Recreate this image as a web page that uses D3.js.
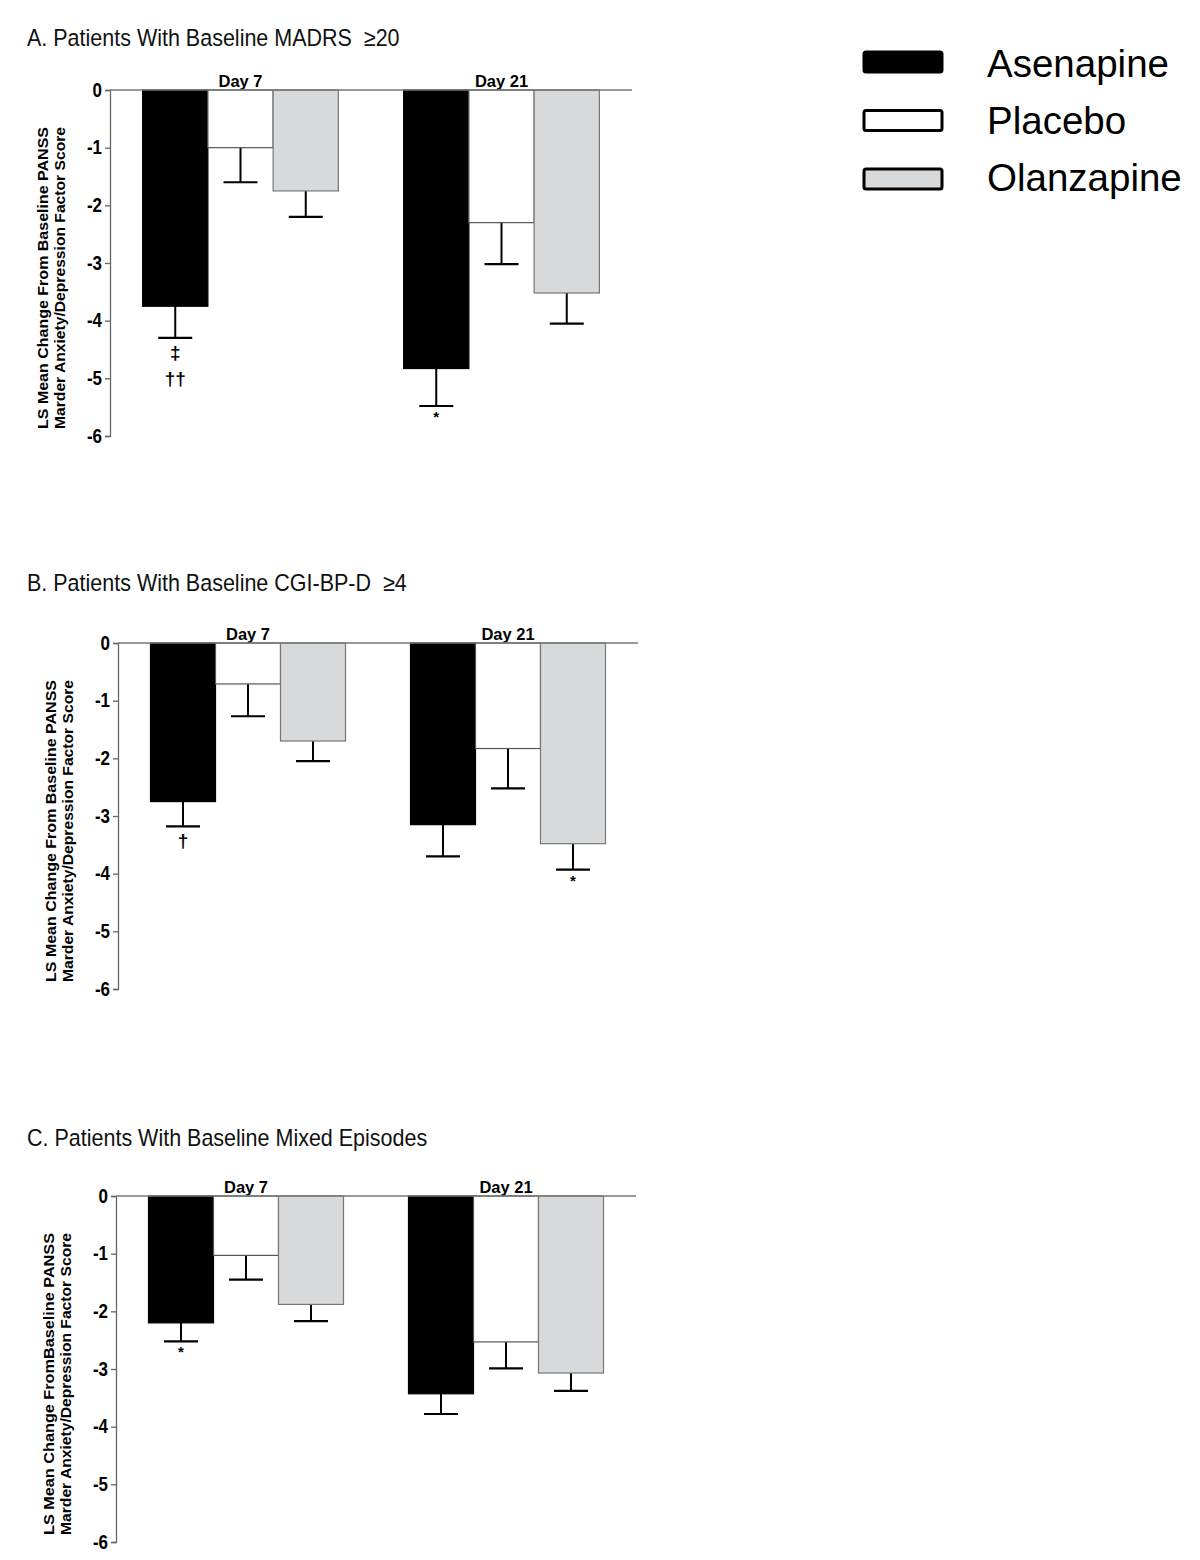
<!DOCTYPE html>
<html>
<head>
<meta charset="utf-8">
<script src="https://cdn.jsdelivr.net/npm/d3@7"></script>
<style>
  body { margin: 0; background: #fff; }
  svg { display: block; font-family: "Liberation Sans", Arial, sans-serif; }
  text { white-space: pre; }
</style>
</head>
<body>
<svg id="chart" width="1200" height="1560"></svg>
<script>
// ---------- DATA ----------
const days = ["Day 7", "Day 21"];
const treatments = ["Asenapine", "Placebo", "Olanzapine"];
const yTicks = [0, -1, -2, -3, -4, -5, -6];

const titleA = "A. Patients With Baseline MADRS  \u226520";
const titleB = "B. Patients With Baseline CGI-BP-D  \u22654";
const titleC = "C. Patients With Baseline Mixed Episodes";

const yLabelA = ["LS Mean Change From Baseline PANSS", "Marder Anxiety/Depression Factor Score"];
const yLabelB = ["LS Mean Change From Baseline PANSS", "Marder Anxiety/Depression Factor Score"];
const yLabelC = ["LS Mean Change FromBaseline PANSS", "Marder Anxiety/Depression Factor Score"];

// LS mean change, rows = days, cols = treatments
const meansA = [[-3.75, -1.00, -1.75], [-4.83, -2.30, -3.52]];
const errEndA = [[-4.30, -1.60, -2.20], [-5.48, -3.02, -4.05]];
const meansB = [[-2.75, -0.71, -1.70], [-3.15, -1.83, -3.48]];
const errEndB = [[-3.18, -1.27, -2.05], [-3.70, -2.52, -3.93]];
const meansC = [[-2.20, -1.03, -1.88], [-3.43, -2.53, -3.07]];
const errEndC = [[-2.52, -1.45, -2.17], [-3.78, -2.99, -3.38]];

// significance marks: [day, treatment, symbols]
const marksA = [["Day 7", "Asenapine", ["\u2021", "\u2020\u2020"]], ["Day 21", "Asenapine", ["*"]]];
const marksB = [["Day 7", "Asenapine", ["\u2020"]], ["Day 21", "Olanzapine", ["*"]]];
const marksC = [["Day 7", "Asenapine", ["*"]]];

// ---------- STYLE ----------
const fillColor = { Asenapine: "#000000", Placebo: "#ffffff", Olanzapine: "#d8d9db" };
const strokeColor = { Asenapine: "#000000", Placebo: "#555555", Olanzapine: "#777777" };

const svg = d3.select("#chart");

const panels = [
  { title: titleA, titleY: 46, yLabel: yLabelA, means: meansA, errs: errEndA, marks: marksA, axisX: 110, right: 632, top: 90 },
  { title: titleB, titleY: 591, yLabel: yLabelB, means: meansB, errs: errEndB, marks: marksB, axisX: 118, right: 638, top: 643 },
  { title: titleC, titleY: 1146, yLabel: yLabelC, means: meansC, errs: errEndC, marks: marksC, axisX: 116, right: 636, top: 1196 }
];

panels.forEach(p => {
  const g = svg.append("g");
  const y = d3.scaleLinear().domain([0, -6]).range([p.top, p.top + 346]);
  const x0 = d3.scaleBand().domain(days).range([p.axisX, p.right]).paddingInner(0.25).paddingOuter(0.125);
  const x1 = d3.scaleBand().domain(treatments).range([0, x0.bandwidth()]).padding(0);

  // title (source figure is slightly stretched vertically)
  g.append("text").attr("transform", `translate(27,${p.titleY}) scale(1,1.1)`)
    .attr("font-size", 21.5).attr("fill", "#111").text(p.title);

  // y axis
  const axis = d3.axisLeft(y).tickValues(yTicks).tickFormat(d => String(d)).tickSize(5).tickPadding(3);
  const ag = g.append("g").attr("transform", `translate(${p.axisX},0)`).call(axis);
  ag.select(".domain").attr("stroke", "#666").attr("stroke-width", 1.3);
  ag.selectAll(".tick line").attr("stroke", "#666").attr("stroke-width", 1.3);
  ag.selectAll(".tick text").attr("font-size", 17).attr("font-weight", "bold")
    .attr("fill", "#000").attr("font-family", "'Liberation Sans', Arial, sans-serif")
    .attr("transform", "scale(1,1.15)");

  // y label (two lines, rotated)
  const cy = p.top + 188;
  p.yLabel.forEach((line, i) => {
    g.append("text")
      .attr("transform", `translate(${p.axisX - 62 + i * 16.5},${cy}) rotate(-90)`)
      .attr("text-anchor", "middle").attr("font-size", 15).attr("font-weight", "bold")
      .attr("textLength", 302).attr("lengthAdjust", "spacingAndGlyphs")
      .attr("fill", "#000").text(line);
  });

  // day labels
  days.forEach(d => {
    g.append("text").attr("x", x0(d) + x0.bandwidth() / 2).attr("y", p.top - 3)
      .attr("text-anchor", "middle").attr("font-size", 16.5).attr("font-weight", "bold").text(d);
  });

  // bars
  const rows = [];
  days.forEach((d, di) => treatments.forEach((t, ti) => rows.push({ day: d, t, v: p.means[di][ti], e: p.errs[di][ti] })));

  // error bars (behind bars)
  const eg = g.append("g");
  rows.forEach(r => {
    const cx = x0(r.day) + x1(r.t) + x1.bandwidth() / 2;
    eg.append("line").attr("x1", cx).attr("x2", cx).attr("y1", y(r.v)).attr("y2", y(r.e))
      .attr("stroke", "#000").attr("stroke-width", 2);
    eg.append("line").attr("x1", cx - 17).attr("x2", cx + 17).attr("y1", y(r.e)).attr("y2", y(r.e))
      .attr("stroke", "#000").attr("stroke-width", 2.2);
  });

  g.append("g").selectAll("rect").data(rows).join("rect")
    .attr("x", r => x0(r.day) + x1(r.t))
    .attr("y", y(0))
    .attr("width", x1.bandwidth())
    .attr("height", r => y(r.v) - y(0))
    .attr("fill", r => fillColor[r.t])
    .attr("stroke", r => strokeColor[r.t])
    .attr("stroke-width", 1.2);

  // zero line
  g.append("line").attr("x1", p.axisX).attr("x2", p.right).attr("y1", y(0)).attr("y2", y(0))
    .attr("stroke", "#777").attr("stroke-width", 1.4);

  // significance marks
  p.marks.forEach(([d, t, syms]) => {
    const di = days.indexOf(d), ti = treatments.indexOf(t);
    const cx = x0(d) + x1(t) + x1.bandwidth() / 2;
    const base = y(p.errs[di][ti]);
    syms.forEach((s, i) => {
      const isStar = s === "*";
      g.append("text").attr("x", cx).attr("y", base + (isStar ? 16 : 21) + i * 26)
        .attr("text-anchor", "middle").attr("font-weight", "bold")
        .attr("font-size", isStar ? 15 : 19).text(s);
    });
  });
});

// ---------- LEGEND ----------
const legend = svg.append("g").attr("transform", "translate(864,52)");
treatments.forEach((t, i) => {
  legend.append("rect").attr("x", 0).attr("y", i * 58.5).attr("width", 78).attr("height", 20)
    .attr("rx", 2).attr("fill", fillColor[t]).attr("stroke", "#000").attr("stroke-width", 3);
  legend.append("text").attr("x", 123).attr("y", i * 57 + 25)
    .attr("font-size", 38.5).attr("fill", "#000").text(t);
});
</script>
</body>
</html>
